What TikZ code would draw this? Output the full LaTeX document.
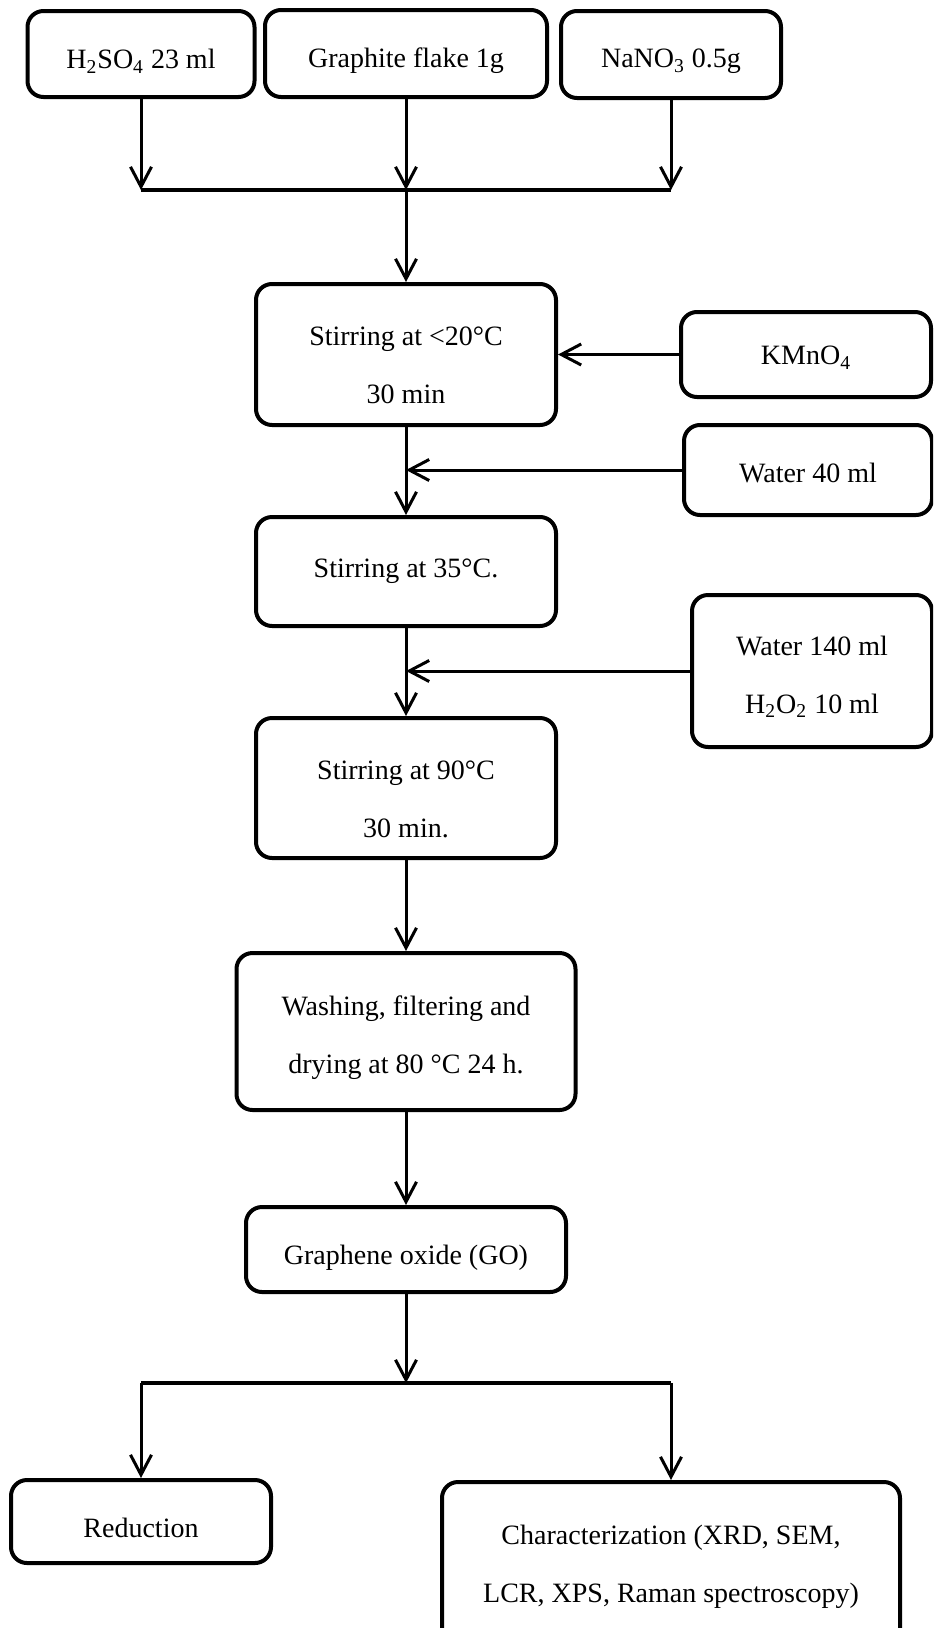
\documentclass[tikz,border=0pt]{standalone}
\usepackage{fontspec}
\setmainfont{Liberation Serif}
\usetikzlibrary{arrows.meta}
\newcommand\lowr[2]{\raisebox{-#1}[\height][\depth]{#2}}
\begin{document}
\begin{tikzpicture}[x=0.5pt,y=-0.5pt,
  box/.style={draw, line width=2pt, rounded corners=8pt, align=center,
    font=\fontsize{14pt}{29pt}\selectfont, inner sep=0pt},
  bx/.style 2 args={box, minimum width=#1pt, minimum height=#2pt},
  conn/.style={line width=1.5pt},
  bar/.style={line width=2pt},
  arr/.style={conn, -{Straight Barb[length=10pt,width=10.5pt]}}]
\useasboundingbox (0,0) rectangle (933,1628);
\clip (0,0) rectangle (933,1628);
% top inputs
\node[bx={113.5}{43}] (h2so4) at (141,54) {\lowr{3.6pt}{H\textsubscript{2}SO\textsubscript{4} 23 ml}};
\node[bx={141}{43.5}] (graph) at (406,53.5) {\lowr{3.6pt}{Graphite flake 1g}};
\node[bx={110}{43.5}] (nano3) at (671,54.5) {\lowr{3.6pt}{NaNO\textsubscript{3} 0.5g}};
% main column
\node[bx={150}{70.5}] (stir1) at (406,354.5) {\rule{0pt}{20pt}Stirring at <20°C\\30 min};
\node[bx={125}{42.5}] (kmno4) at (806,354.5) {\lowr{1.6pt}{KMnO\textsubscript{4}}};
\node[bx={124}{45}] (water40) at (808,470) {\lowr{1.6pt}{Water 40 ml}};
\node[bx={150}{54.5}] (stir2) at (406,571.5) {Stirring at 35°C.};
\node[bx={120}{76}] (water140) at (812,671) {\lowr{3pt}{Water 140 ml}\\\lowr{3pt}{H\textsubscript{2}O\textsubscript{2} 10 ml}};
\node[bx={150}{70}] (stir3) at (406,788) {\rule{0pt}{21pt}Stirring at 90°C\\30 min.};
\node[bx={169.5}{78.5}] (wash) at (406,1031.5) {\lowr{3pt}{Washing, filtering and}\\\lowr{3pt}{drying at 80 °C 24 h.}};
\node[bx={160}{42.5}] (go) at (406,1249.5) {\lowr{4pt}{Graphene oxide (GO)}};
\node[bx={130}{41.5}] (red) at (141,1521.5) {\lowr{3pt}{Reduction}};
\node[bx={229}{84}] (char) at (671,1566) {\lowr{0.5pt}{Characterization (XRD, SEM,}\\\lowr{0.5pt}{LCR, XPS, Raman spectroscopy)}};
% connectors
\coordinate (jt) at (406,190);
\coordinate (jb) at (406,1383);
\draw[arr] (h2so4.south) -- (h2so4.south |- jt);
\draw[arr] (graph.south) -- (graph.south |- jt);
\draw[arr] (nano3.south) -- (nano3.south |- jt);
\draw[bar] (h2so4.south |- jt) -- (nano3.south |- jt);
\draw[arr] (jt) -- (stir1.north);
\draw[arr] (kmno4.west) -- (stir1.east);
\draw[arr] (stir1.south) -- (stir2.north);
\draw[arr] (water40.west) -- (stir1.south |- water40.west);
\draw[arr] (stir2.south) -- (stir3.north);
\draw[arr] (water140.west) -- (stir2.south |- water140.west);
\draw[arr] (stir3.south) -- (wash.north);
\draw[arr] (wash.south) -- (go.north);
\draw[arr] (go.south) -- (jb);
\draw[bar] (red.north |- jb) -- (char.north |- jb);
\draw[arr] (red.north |- jb) -- (red.north);
\draw[arr] (char.north |- jb) -- (char.north);
\end{tikzpicture}
\end{document}
